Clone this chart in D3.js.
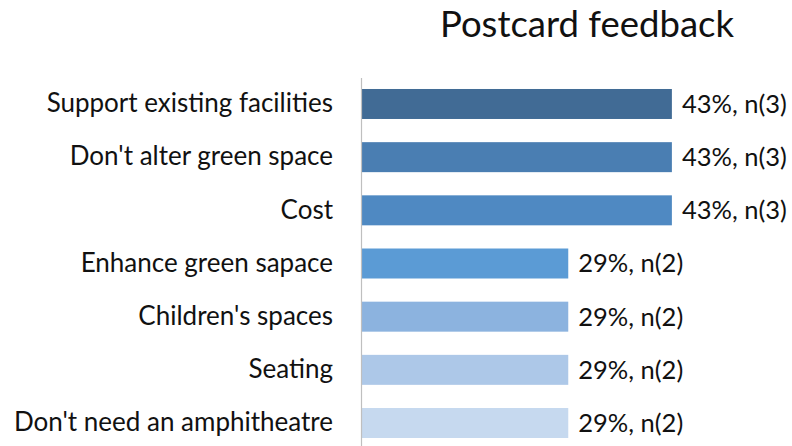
<!DOCTYPE html>
<html>
<head>
<meta charset="utf-8">
<script src="https://cdn.jsdelivr.net/npm/d3@7"></script>
<style>
  body { margin: 0; background: #fff; }
  svg { display: block; font-family: Lato, "Open Sans", sans-serif; }
</style>
</head>
<body>
<svg width="792" height="446"></svg>
<script>
// postcard responses, 7 postcards in total
var categories = ["Support existing facilities", "Don't alter green space", "Cost",
  "Enhance green sapace", "Children's spaces", "Seating", "Don't need an amphitheatre"]
var counts = [3, 3, 3, 2, 2, 2, 2]
var totalPostcards = 7
var barColors = ["#416b95", "#4a7eb2", "#4f89c2", "#5b9bd5", "#8cb3df", "#adc8e8", "#c6d9ef"]

var svg = d3.select('svg')
var width = 792
var height = 446
var left = 361

var x = d3.scaleLinear()
    .domain([0, 0.5])
    .range([left, left + 362.7])

var y = d3.scaleBand()
    .domain(categories)
    .range([77.4, 449.6])
    .paddingInner(0.436)
    .paddingOuter(0.218)

var data = categories.map((c, i) => ({name: c, n: counts[i], share: counts[i] / totalPostcards, color: barColors[i]}))

svg.append("text")
    .attr("x", 587)
    .attr("y", 37)
    .attr("text-anchor", "middle")
    .attr("font-size", 36.5)
    .attr("fill", "#111")
    .text("Postcard feedback")

svg.append("g")
  .selectAll("rect")
  .data(data)
  .enter()
  .append("rect")
    .attr("x", x(0))
    .attr("y", d => y(d.name))
    .attr("width", d => x(d.share) - x(0))
    .attr("height", y.bandwidth())
    .attr("fill", d => d.color)

// category axis, ticks hidden
var yAxis = g => g
    .attr("transform", `translate(${x(0)},0)`)
    .call(d3.axisLeft(y).tickSize(0).tickPadding(28).tickSizeOuter(0))
    .call(g => g.select(".domain").attr("stroke", "#bfbfbf").attr("stroke-width", 1.2))
    .call(g => g.selectAll(".tick text")
        .attr("font-size", 26)
        .attr("font-family", "Lato, 'Open Sans', sans-serif")
        .attr("fill", "#111"))

svg.append("g").call(yAxis)

svg.append("g")
  .selectAll("text")
  .data(data)
  .enter()
  .append("text")
    .attr("x", d => x(d.share) + 10)
    .attr("y", d => y(d.name) + y.bandwidth() / 2)
    .attr("dy", "0.35em")
    .attr("font-size", 25.5)
    .attr("fill", "#111")
    .text(d => Math.round(d.share * 100) + "%, n(" + d.n + ")")
</script>
</body>
</html>
